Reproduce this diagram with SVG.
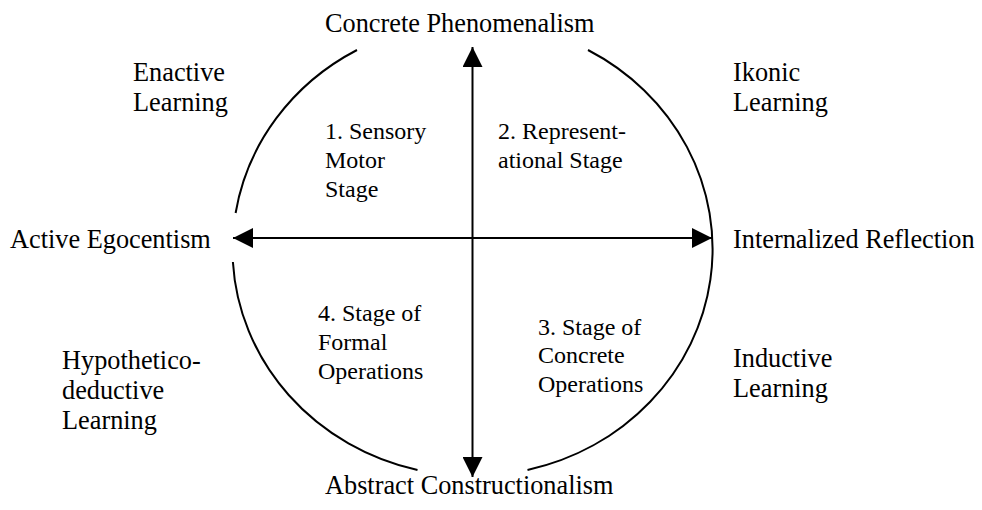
<svg xmlns="http://www.w3.org/2000/svg" width="982" height="510" viewBox="0 0 982 510">
  <style>
    text { font-family: "Liberation Serif", "Times New Roman", serif; fill: #000; }
    .outer { font-size: 26.3px; }
    .stage { font-size: 24px; }
    .arc { fill: none; stroke: #000; stroke-width: 2; }
    .axis { fill: none; stroke: #000; stroke-width: 2; marker-start: url(#arrow); marker-end: url(#arrow); }
  </style>
  <defs>
    <marker id="arrow" markerUnits="userSpaceOnUse" markerWidth="20" markerHeight="20" refX="20" refY="10" orient="auto-start-reverse" viewBox="0 0 20 20">
      <path d="M0,0 L20,10 L0,20 Z" fill="#000"/>
    </marker>
  </defs>
  <rect width="982" height="510" fill="#fff"/>

  <g id="circle">
    <path class="arc" d="M588,50 A240,227 0 0 1 527.5,470"/>
    <path class="arc" d="M417.5,470 A240,227 0 0 1 232.9,262"/>
    <path class="arc" d="M235.6,213 A240,227 0 0 1 357,50"/>
  </g>

  <g id="connectors">
    <line class="axis" x1="233" y1="238" x2="712" y2="238"/>
    <line class="axis" x1="472.5" y1="47" x2="472.5" y2="477"/>
  </g>

  <g id="concrete-phenomenalism"><text class="outer" x="325" y="32">Concrete Phenomenalism</text></g>
  <g id="abstract-constructionalism"><text class="outer" x="325" y="494">Abstract Constructionalism</text></g>
  <g id="active-egocentism"><text class="outer" x="10" y="248">Active Egocentism</text></g>
  <g id="internalized-reflection"><text class="outer" x="733" y="248">Internalized Reflection</text></g>

  <g id="enactive-learning">
    <text class="outer" x="133" y="81">Enactive</text>
    <text class="outer" x="133" y="111">Learning</text>
  </g>
  <g id="ikonic-learning">
    <text class="outer" x="733" y="81">Ikonic</text>
    <text class="outer" x="733" y="111">Learning</text>
  </g>
  <g id="hypothetico-deductive-learning">
    <text class="outer" x="62" y="369">Hypothetico-</text>
    <text class="outer" x="62" y="399">deductive</text>
    <text class="outer" x="62" y="429">Learning</text>
  </g>
  <g id="inductive-learning">
    <text class="outer" x="733" y="367">Inductive</text>
    <text class="outer" x="733" y="397">Learning</text>
  </g>

  <g id="stage-1">
    <text class="stage" x="325" y="139">1. Sensory</text>
    <text class="stage" x="325" y="168">Motor</text>
    <text class="stage" x="325" y="197">Stage</text>
  </g>
  <g id="stage-2">
    <text class="stage" x="498" y="139">2. Represent-</text>
    <text class="stage" x="498" y="168">ational Stage</text>
  </g>
  <g id="stage-4">
    <text class="stage" x="318" y="321">4. Stage of</text>
    <text class="stage" x="318" y="350">Formal</text>
    <text class="stage" x="318" y="379">Operations</text>
  </g>
  <g id="stage-3">
    <text class="stage" x="538" y="335">3. Stage of</text>
    <text class="stage" x="538" y="363">Concrete</text>
    <text class="stage" x="538" y="392">Operations</text>
  </g>
</svg>
